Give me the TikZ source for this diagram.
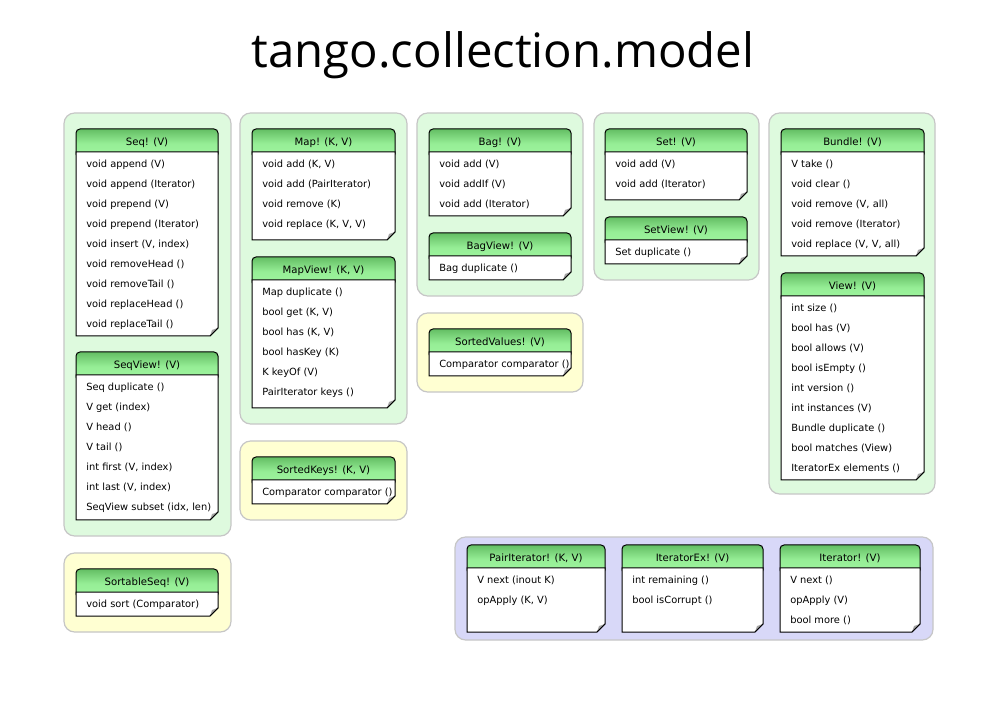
\documentclass[tikz,border=0pt]{standalone}
\usepackage{fontspec}
\setmainfont{DejaVu Sans}
\newfontfamily\titlefont{Open Sans}
\definecolor{grpgreen}{RGB}{222,250,222}
\definecolor{grpyellow}{RGB}{255,255,210}
\definecolor{grpblue}{RGB}{216,216,248}
\definecolor{grpedge}{RGB}{198,198,198}
\definecolor{headtop}{RGB}{100,190,100}
\definecolor{headmid}{RGB}{150,238,150}
\definecolor{headbot}{RGB}{160,246,160}
\definecolor{foldgray}{RGB}{165,165,165}
\tikzset{
  grp/.style={draw=grpedge, line width=0.9pt, rounded corners=8pt},
  greengrp/.style={grp, fill=grpgreen},
  yellowgrp/.style={grp, fill=grpyellow},
  bluegrp/.style={grp, fill=grpblue},
  headbox/.style={draw=black, line width=0.75pt, rounded corners=3pt,
    top color=headtop, bottom color=headbot, middle color=headmid},
  headtext/.style={inner sep=0pt, font=\fontsize{7.6}{9}\selectfont},
  bodybox/.style={draw=black, fill=white, line width=0.75pt},
  foldfill/.style={fill=foldgray},
  rowtext/.style={anchor=west, inner sep=0pt, font=\fontsize{7.4}{9}\selectfont},
  titletext/.style={inner sep=0pt, font=\titlefont\fontsize{35.5}{42}\selectfont},
}
% class box: name, left x, top y, width, bottom y, title, rows
\newcommand\umlclass[7]{%
  \draw[headbox] (#2,#3) rectangle ({#2+#4},{#3+29});
  \node[headtext] (#1) at ({#2+#4/2},{#3+13.5}) {#6};
  \draw[bodybox] (#2,{#3+23}) -- ({#2+#4},{#3+23}) -- ({#2+#4},{#5-8})
    -- ({#2+#4-8},#5) -- (#2,#5) -- cycle;
  \fill[foldfill] ({#2+#4},{#5-8}) -- ({#2+#4-8},#5) -- ({#2+#4-6},{#5-6}) -- cycle;
  \draw[line width=0.6pt] ({#2+#4},{#5-8}) -- ({#2+#4-8},#5);
  \foreach \t [count=\i] in {#7}
    \node[rowtext] (#1-\i) at ({#2+10},{#3+35.5+20*(\i-1)}) {\t};
}
\begin{document}
\begin{tikzpicture}[x=0.75pt,y=-0.75pt]
\useasboundingbox[fill=white] (0,0) rectangle (1008,720);

\node[titletext] (title) at (503,55) {tango.collection.model};

% package groups
\draw[greengrp] (64,113) rectangle (231,536);
\draw[greengrp] (240,113) rectangle (407,424);
\draw[greengrp] (417,113) rectangle (583,296);
\draw[greengrp] (594,113) rectangle (759,280);
\draw[greengrp] (769,113) rectangle (935,494);
\draw[yellowgrp] (64,553) rectangle (231,632);
\draw[yellowgrp] (240,441) rectangle (407,520);
\draw[yellowgrp] (417,313) rectangle (583,392);
\draw[bluegrp] (455,537) rectangle (933,640);

% sequences
\umlclass{seq}{76}{129}{142}{336}{Seq! (V)}{void append (V), void append (Iterator),
  void prepend (V), void prepend (Iterator), {void insert (V, index)},
  void removeHead (), void removeTail (), void replaceHead (), void replaceTail ()}
\umlclass{seqview}{76}{352}{142}{520}{SeqView! (V)}{Seq duplicate (), V get (index),
  V head (), V tail (), {int first (V, index)}, {int last (V, index)},
  {SeqView subset (idx, len)}}
\umlclass{sortableseq}{76}{569}{142}{616}{SortableSeq! (V)}{void sort (Comparator)}

% maps
\umlclass{map}{252}{129}{143}{240}{Map! (K, V)}{{void add (K, V)}, void add (PairIterator),
  void remove (K), {void replace (K, V, V)}}
\umlclass{mapview}{252}{257}{143}{408}{MapView! (K, V)}{Map duplicate (), {bool get (K, V)},
  {bool has (K, V)}, bool hasKey (K), K keyOf (V), PairIterator keys ()}
\umlclass{sortedkeys}{252}{457}{143}{504}{SortedKeys! (K, V)}{Comparator comparator ()}

% bags
\umlclass{bag}{429}{129}{142}{216}{Bag! (V)}{void add (V), void addIf (V), void add (Iterator)}
\umlclass{bagview}{429}{233}{142}{280}{BagView! (V)}{Bag duplicate ()}
\umlclass{sortedvalues}{429}{329}{142}{376}{SortedValues! (V)}{Comparator comparator ()}

% sets
\umlclass{set}{605}{129}{142}{200}{Set! (V)}{void add (V), void add (Iterator)}
\umlclass{setview}{605}{217}{142}{264}{SetView! (V)}{Set duplicate ()}

% bundles and views
\umlclass{bundle}{781}{129}{143}{256}{Bundle! (V)}{V take (), void clear (),
  {void remove (V, all)}, void remove (Iterator), {void replace (V, V, all)}}
\umlclass{view}{781}{273}{143}{480}{View! (V)}{int size (), bool has (V), bool allows (V),
  bool isEmpty (), int version (), int instances (V), Bundle duplicate (),
  bool matches (View), IteratorEx elements ()}

% iterators
\umlclass{pairiterator}{467}{545}{138}{632}{PairIterator! (K, V)}{V next (inout K), {opApply (K, V)}}
\umlclass{iteratorex}{622}{545}{141}{632}{IteratorEx! (V)}{int remaining (), bool isCorrupt ()}
\umlclass{iterator}{780}{545}{140}{632}{Iterator! (V)}{V next (), opApply (V), bool more ()}
\end{tikzpicture}
\end{document}
